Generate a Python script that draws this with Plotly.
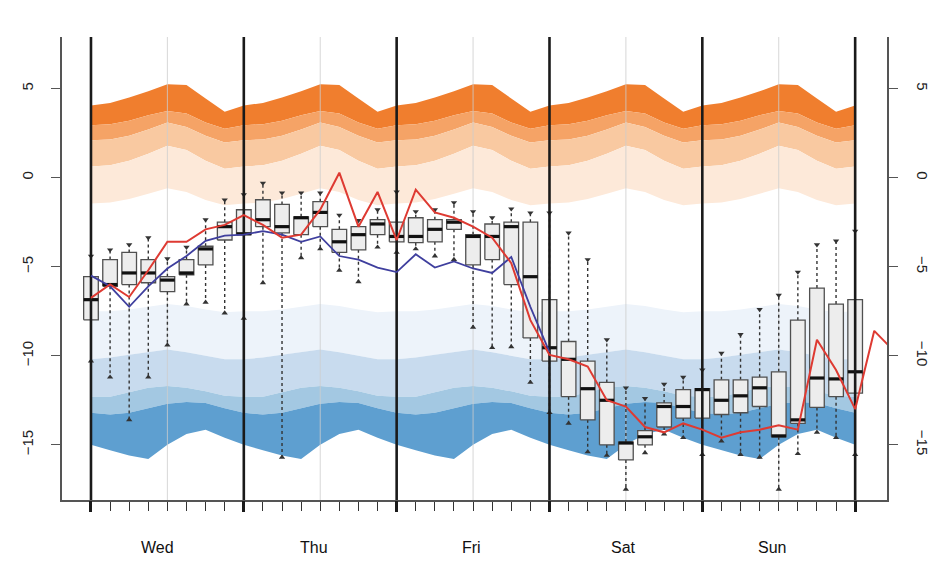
import plotly.graph_objects as go

# ---------------- data ----------------
hours = [0, 3, 6, 9, 12, 15, 18, 21, 24, 27, 30, 33, 36, 39, 42, 45, 48, 51, 54, 57,
         60, 63, 66, 69, 72, 75, 78, 81, 84, 87, 90, 93, 96, 99, 102, 105, 108, 111,
         114, 117, 120]

day_bounds = [0, 24, 48, 72, 96, 120]
noon_hours = [12, 36, 60, 84, 108]
day_names = ["Wed", "Thu", "Fri", "Sat", "Sun"]
day_label_x = [10.5, 35, 59.8, 83.6, 107]
y_ticks = [-15, -10, -5, 0, 5]
y_labels = ["\u221215", "\u221210", "\u22125", "0", "5"]

# box statistics (one per 3 h)
box_lo = [-10.3, -11.2, -13.6, -11.2, -9.4, -7.1, -7.0, -7.6, -7.9, -5.9, -15.7, -4.5, -4.0,
          -5.2, -5.85, -3.9, -4.2, -4.0, -4.4, -4.6, -8.4, -9.55, -9.5, -11.5, -13.2, -13.8,
          -15.4, -15.6, -17.5, -15.45, -14.4, -14.6, -15.55, -14.8, -15.55, -15.7, -17.5,
          -15.5, -14.3, -14.6, -15.55]
box_q1 = [-7.98, -6.1, -6.0, -5.9, -6.4, -5.45, -4.9, -3.5, -3.2, -2.75, -3.1, -3.2, -2.75,
          -4.2, -4.05, -3.2, -3.6, -3.65, -3.6, -2.9, -4.9, -4.6, -6.0, -9.0, -10.3, -12.3,
          -13.6, -15.0, -15.85, -15.0, -14.0, -13.5, -13.5, -13.3, -13.2, -12.85, -14.55,
          -13.8, -12.9, -12.3, -12.1]
box_med = [-6.85, -6.0, -5.35, -5.35, -5.75, -5.35, -4.0, -2.75, -3.15, -2.36, -2.75, -2.25,
           -1.95, -3.6, -3.2, -2.6, -3.3, -3.3, -2.9, -2.5, -3.3, -3.3, -2.75, -5.56, -9.55,
           -10.2, -11.85, -12.5, -14.9, -14.55, -12.85, -12.85, -11.9, -12.5, -12.25, -11.8,
           -14.5, -13.6, -11.25, -11.3, -10.9]
box_q3 = [-5.56, -4.6, -4.2, -4.6, -5.56, -4.6, -3.85, -2.5, -1.8, -1.24, -1.5, -2.2, -1.35,
          -2.9, -2.75, -2.36, -2.5, -2.25, -2.36, -2.36, -3.2, -2.6, -2.5, -2.5, -6.85, -9.2,
          -10.3, -11.5, -14.85, -14.2, -12.65, -11.9, -11.85, -11.35, -11.35, -11.2, -10.9,
          -8.0, -6.2, -7.1, -6.85]
box_hi = [-4.4, -4.05, -3.76, -3.37, -4.55, -3.9, -2.36, -1.24, -0.95, -0.3, -0.85, -0.85,
          -0.85, -2.1, -2.4, -1.8, -0.8, -1.9, -1.8, -1.4, -1.9, -2.25, -1.75, -1.97, -1.97,
          -3.1, -4.6, -9.1, -11.8, -12.4, -11.6, -11.2, -10.8, -9.85, -8.8, -7.4, -6.6, -5.3,
          -3.76, -3.55, -3.0]

# observed (red) line
red_hours = hours + [123, 126]
red_vals = [-6.75, -6.0, -6.7, -5.2, -3.6, -3.6, -2.9, -2.65, -2.1, -2.65, -3.37, -3.2, -1.8,
            0.28, -2.75, -0.8, -3.5, -0.67, -1.95, -2.25, -2.75, -3.37, -4.8, -8.0, -9.95,
            -10.2, -10.6, -12.5, -12.85, -14.0, -14.3, -13.8, -14.15, -14.6, -14.3, -14.15,
            -13.9, -14.15, -9.1, -10.8, -13.0, -8.6, -9.7]

# deterministic (blue) line
blue_hours = hours[:25]
blue_vals = [-5.5, -6.1, -7.25, -6.1, -5.1, -4.4, -3.55, -3.25, -3.2, -3.0, -3.2, -3.6, -3.3,
             -4.4, -4.6, -5.05, -5.3, -4.3, -5.05, -4.7, -5.1, -5.35, -4.45, -7.25, -9.8]

# climatological bands (upper edge ... lower edge), one value per 3 h
o_top = [4.05, 4.2, 4.5, 4.85, 5.25, 5.2, 4.45, 3.7] * 5 + [4.05]
o_b1 = [2.95, 3.0, 3.2, 3.5, 3.75, 3.6, 3.1, 2.75] * 5 + [2.95]
o_b2 = [2.1, 2.15, 2.35, 2.7, 3.1, 2.85, 2.35, 1.98] * 5 + [2.1]
o_b3 = [0.63, 0.7, 0.95, 1.35, 1.8, 1.55, 0.95, 0.5] * 5 + [0.63]
o_b4 = [-1.45, -1.4, -1.2, -0.9, -0.6, -0.8, -1.25, -1.55] * 5 + [-1.45]

b_top = [-7.5, -7.5, -7.4, -7.25, -7.1, -7.2, -7.4, -7.55] * 5 + [-7.5]
b_b1 = [-10.2, -10.1, -9.95, -9.8, -9.65, -9.8, -10.0, -10.2] * 5 + [-10.2]
b_b2 = [-12.3, -12.3, -12.05, -11.8, -11.7, -11.8, -12.0, -12.25] * 5 + [-12.3]
b_b3 = [-13.2, -13.3, -13.2, -12.95, -12.7, -12.6, -12.65, -12.95] * 5 + [-13.2]
b_bot = [-15.0, -15.3, -15.6, -15.8, -15.0, -14.4, -14.15, -14.6] * 5 + [-15.0]

# ---------------- styling ----------------
X_RANGE = [-4.55, 125.0]
Y_RANGE = [-18.1, 7.9]
BOX_W = 2.3
FONT = "Liberation Sans, Arial, Helvetica, sans-serif"

fig = go.Figure()


def band(upper, lower, color):
    fig.add_trace(go.Scatter(
        x=hours + hours[::-1], y=upper + lower[::-1], mode="lines",
        fill="toself", fillcolor=color, line=dict(width=0, color=color),
        hoverinfo="skip", showlegend=False))


band(o_top, o_b1, "#F07E2E")
band(o_b1, o_b2, "#F5A366")
band(o_b2, o_b3, "#F9C9A1")
band(o_b3, o_b4, "#FDE9D9")
band(b_top, b_b1, "#EDF3FA")
band(b_b1, b_b2, "#C8DBEE")
band(b_b2, b_b3, "#A3C8E2")
band(b_b3, b_bot, "#5E9FD0")

# noon grid lines
gx, gy = [], []
for h in noon_hours:
    gx += [h, h, None]
    gy += [Y_RANGE[0], Y_RANGE[1], None]
fig.add_trace(go.Scatter(x=gx, y=gy, mode="lines",
                         line=dict(color="rgba(205,205,205,0.8)", width=1),
                         hoverinfo="skip", showlegend=False))

# whiskers
wx, wy = [], []
for h, lo, q1, q3, hi in zip(hours, box_lo, box_q1, box_q3, box_hi):
    wx += [h, h, None, h, h, None]
    wy += [q3, hi, None, q1, lo, None]
fig.add_trace(go.Scatter(x=wx, y=wy, mode="lines",
                         line=dict(color="#333333", width=1.4, dash="dot"),
                         hoverinfo="skip", showlegend=False))
fig.add_trace(go.Scatter(x=hours, y=box_hi, mode="markers",
                         marker=dict(symbol="triangle-down", size=5.5, color="#333333"),
                         hoverinfo="skip", showlegend=False))
fig.add_trace(go.Scatter(x=hours, y=box_lo, mode="markers",
                         marker=dict(symbol="triangle-up", size=5.5, color="#333333"),
                         hoverinfo="skip", showlegend=False))

# boxes (interquartile rectangles)
bx, by = [], []
for h, q1, q3 in zip(hours, box_q1, box_q3):
    bx += [h - BOX_W / 2, h + BOX_W / 2, h + BOX_W / 2, h - BOX_W / 2, h - BOX_W / 2, None]
    by += [q1, q1, q3, q3, q1, None]
fig.add_trace(go.Scatter(x=bx, y=by, mode="lines", fill="toself", fillcolor="#EDEDED",
                         line=dict(color="#505050", width=1.3),
                         hoverinfo="skip", showlegend=False))

# thick medians
mx, my = [], []
for h, m in zip(hours, box_med):
    mx += [h - BOX_W / 2, h + BOX_W / 2, None]
    my += [m, m, None]
fig.add_trace(go.Scatter(x=mx, y=my, mode="lines",
                         line=dict(color="#111111", width=3.2),
                         hoverinfo="skip", showlegend=False))

# day separators
dx, dy = [], []
for h in day_bounds:
    dx += [h, h, None]
    dy += [Y_RANGE[0], Y_RANGE[1], None]
fig.add_trace(go.Scatter(x=dx, y=dy, mode="lines",
                         line=dict(color="#1a1a1a", width=2.6),
                         hoverinfo="skip", showlegend=False))

# forecast lines
fig.add_trace(go.Scatter(x=blue_hours, y=blue_vals, mode="lines",
                         line=dict(color="#3F3F9E", width=1.8),
                         hoverinfo="skip", showlegend=False))
fig.add_trace(go.Scatter(x=red_hours, y=red_vals, mode="lines",
                         line=dict(color="#DE3A32", width=2.0),
                         hoverinfo="skip", showlegend=False))

# dummy trace so the secondary axes render
fig.add_trace(go.Scatter(x=[day_bounds[0]], y=[y_ticks[0]], xaxis="x2", yaxis="y2",
                         mode="markers", marker=dict(opacity=0), hoverinfo="skip",
                         showlegend=False))

# day labels
for name, xl in zip(day_names, day_label_x):
    fig.add_annotation(x=xl, y=0, xref="x", yref="paper", text=name, showarrow=False,
                       yshift=-47, yanchor="middle",
                       font=dict(family=FONT, size=16, color="#111111"))

fig.update_layout(
    width=933, height=577,
    margin=dict(l=62, r=46, t=37, b=77, autoexpand=False),
    paper_bgcolor="white", plot_bgcolor="white",
    showlegend=False,
    font=dict(family=FONT, size=14, color="#333333"),
    xaxis=dict(range=X_RANGE, showgrid=False, zeroline=False, automargin=False,
               showline=True, linecolor="#555555", linewidth=1.5,
               tickmode="array", tickvals=hours, ticks="outside", ticklen=9,
               tickwidth=1, tickcolor="#333333", showticklabels=False),
    xaxis2=dict(range=X_RANGE, overlaying="x", anchor="y", side="bottom",
                showgrid=False, zeroline=False, showline=False, automargin=False,
                tickmode="array", tickvals=day_bounds, ticks="outside", ticklen=11,
                tickwidth=2.6, tickcolor="#1a1a1a", showticklabels=False),
    yaxis=dict(range=Y_RANGE, showgrid=False, zeroline=False, automargin=False,
               showline=True, linecolor="#555555", linewidth=1.5,
               tickmode="array", tickvals=y_ticks, ticktext=y_labels,
               ticks="outside", ticklen=9, tickwidth=1.3, tickcolor="#555555",
               tickangle=-90, ticklabelstandoff=12,
               tickfont=dict(family=FONT, size=15, color="#222222")),
    yaxis2=dict(range=Y_RANGE, overlaying="y", side="right", anchor="x",
                showgrid=False, zeroline=False, automargin=False,
                showline=True, linecolor="#555555", linewidth=1.5,
                tickmode="array", tickvals=y_ticks, ticktext=y_labels,
                ticks="outside", ticklen=9, tickwidth=1.3, tickcolor="#555555",
                tickangle=90, ticklabelstandoff=13,
                tickfont=dict(family=FONT, size=15, color="#222222")),
)

fig.write_html("out.html", config={"displayModeBar": False},
               post_script="document.body.style.margin='0';")
